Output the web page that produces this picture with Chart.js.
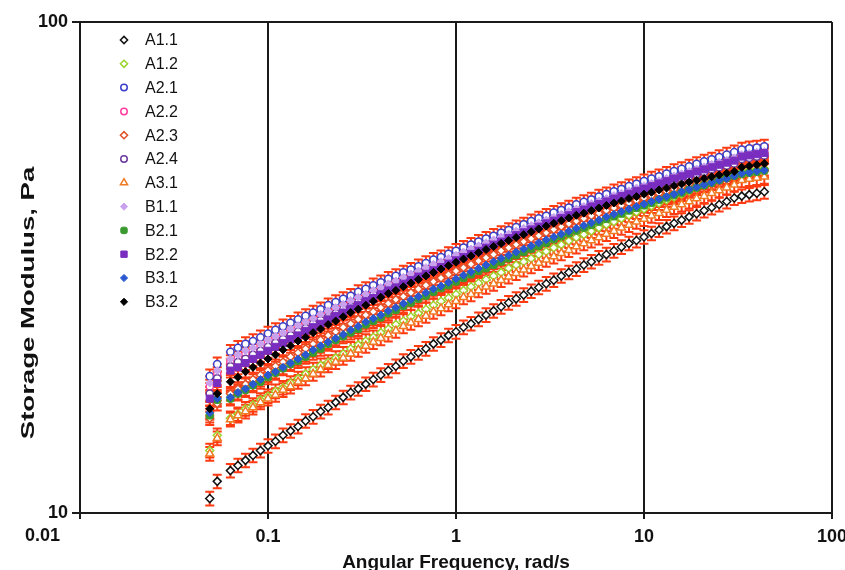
<!DOCTYPE html>
<html>
<head>
<meta charset="utf-8">
<script src="https://cdn.jsdelivr.net/npm/chart.js@4.4.1/dist/chart.umd.min.js"></script>
<style>
html,body{margin:0;padding:0;background:#ffffff;}
#wrap{width:845px;height:570px;position:relative;}
</style>
</head>
<body>
<div id="wrap"><canvas id="c" width="845" height="570"></canvas></div>
<script>
// ---------- DATA ----------
const freq = [0.049, 0.0537,
  0.0631, 0.0692, 0.0759, 0.0832, 0.0912, 0.1, 0.1096, 0.1202, 0.1318, 0.1445, 0.1585, 0.1738, 0.1905, 0.2089, 0.2291, 0.2512, 0.2754, 0.302, 0.3311, 0.3631, 0.3981, 0.4365, 0.4786, 0.5248, 0.5754, 0.631, 0.6918, 0.7586, 0.8318, 0.912, 1, 1.096, 1.202, 1.318, 1.445, 1.585, 1.738, 1.905, 2.089, 2.291, 2.512, 2.754, 3.02, 3.311, 3.631, 3.981, 4.365, 4.786, 5.248, 5.754, 6.31, 6.918, 7.586, 8.318, 9.12, 10, 10.96, 12.02, 13.18, 14.45, 15.85, 17.38, 19.05, 20.89, 22.91, 25.12, 27.54, 30.2,
  33.11, 36.31, 39.81, 43.65];

const seriesNames = ['A1.1','A1.2','A2.1','A2.2','A2.3','A2.4','A3.1','B1.1','B2.1','B2.2','B3.1','B3.2'];

const A11 = [10.7, 11.6,
  12.2, 12.5, 12.8, 13.1, 13.4, 13.7, 14.0, 14.4, 14.7, 15.0, 15.4, 15.7, 16.1, 16.4, 16.8, 17.2, 17.6, 17.9, 18.3, 18.7, 19.1, 19.5, 19.9, 20.4, 20.8, 21.2, 21.6, 22.1, 22.5, 23.0, 23.4, 23.9, 24.3, 24.8, 25.3, 25.8, 26.3, 26.8, 27.3, 27.8, 28.3, 28.8, 29.3, 29.8, 30.4, 30.9, 31.4, 32.0, 32.5, 33.1, 33.6, 34.2, 34.8, 35.4, 35.9, 36.5, 37.1, 37.7, 38.3, 38.9, 39.5, 40.1, 40.7, 41.3, 41.9, 42.5, 43.1, 43.8,
  44.2, 44.5, 44.8, 45.1];
const A12 = [13.4, 14.4,
  15.6, 15.9, 16.3, 16.6, 17.0, 17.3, 17.7, 18.0, 18.4, 18.8, 19.2, 19.6, 20.0, 20.3, 20.7, 21.1, 21.6, 22.0, 22.4, 22.8, 23.3, 23.7, 24.2, 24.6, 25.1, 25.5, 26.0, 26.5, 27.0, 27.4, 27.9, 28.4, 28.9, 29.4, 29.9, 30.4, 30.9, 31.5, 32.0, 32.5, 33.0, 33.6, 34.1, 34.7, 35.2, 35.8, 36.4, 36.9, 37.5, 38.1, 38.7, 39.2, 39.8, 40.4, 41.0, 41.6, 42.2, 42.8, 43.4, 44.0, 44.6, 45.3, 45.9, 46.5, 47.1, 47.8, 48.4, 49.0,
  49.6, 49.9, 50.1, 50.3];
const A21 = [19.0, 20.1,
  21.3, 21.7, 22.1, 22.4, 22.8, 23.2, 23.6, 24.0, 24.4, 24.8, 25.2, 25.6, 26.0, 26.5, 26.9, 27.3, 27.7, 28.2, 28.6, 29.1, 29.5, 30.0, 30.4, 30.9, 31.3, 31.8, 32.3, 32.8, 33.2, 33.7, 34.2, 34.7, 35.2, 35.7, 36.2, 36.7, 37.2, 37.7, 38.2, 38.7, 39.3, 39.8, 40.3, 40.9, 41.4, 41.9, 42.5, 43.0, 43.5, 44.1, 44.6, 45.2, 45.7, 46.3, 46.8, 47.4, 48.0, 48.5, 49.1, 49.7, 50.2, 50.8, 51.4, 52.0, 52.5, 53.1, 53.7, 54.3,
  55.0, 55.3, 55.5, 55.8];
const A22 = [18.1, 19.2,
  20.3, 20.7, 21.1, 21.4, 21.8, 22.2, 22.6, 23.0, 23.4, 23.8, 24.2, 24.6, 25.1, 25.5, 25.9, 26.3, 26.8, 27.2, 27.7, 28.1, 28.5, 29.0, 29.5, 29.9, 30.4, 30.8, 31.3, 31.8, 32.3, 32.7, 33.2, 33.7, 34.2, 34.7, 35.1, 35.6, 36.1, 36.6, 37.1, 37.6, 38.1, 38.6, 39.1, 39.7, 40.2, 40.7, 41.2, 41.7, 42.2, 42.7, 43.2, 43.7, 44.3, 44.8, 45.3, 45.8, 46.3, 46.8, 47.4, 47.9, 48.4, 48.9, 49.4, 49.9, 50.4, 50.9, 51.4, 52.0,
  52.9, 53.2, 53.5, 53.8];
const A23 = [15.6, 16.7,
  17.5, 17.9, 18.3, 18.7, 19.1, 19.5, 19.9, 20.3, 20.8, 21.2, 21.6, 22.1, 22.5, 23.0, 23.4, 23.9, 24.3, 24.8, 25.3, 25.7, 26.2, 26.7, 27.2, 27.6, 28.1, 28.6, 29.1, 29.6, 30.1, 30.6, 31.1, 31.6, 32.1, 32.6, 33.1, 33.6, 34.2, 34.7, 35.2, 35.7, 36.2, 36.7, 37.2, 37.8, 38.3, 38.8, 39.3, 39.8, 40.3, 40.8, 41.3, 41.8, 42.3, 42.8, 43.3, 43.8, 44.3, 44.8, 45.2, 45.7, 46.2, 46.7, 47.1, 47.6, 48.1, 48.5, 49.0, 49.4,
  50.6, 50.9, 51.1, 51.4];
const A24 = [17.5, 18.8,
  19.9, 20.3, 20.6, 21.0, 21.4, 21.8, 22.2, 22.6, 23.0, 23.4, 23.8, 24.3, 24.7, 25.1, 25.5, 26.0, 26.4, 26.9, 27.3, 27.8, 28.2, 28.7, 29.1, 29.6, 30.1, 30.5, 31.0, 31.5, 31.9, 32.4, 32.9, 33.4, 33.9, 34.4, 34.9, 35.4, 35.9, 36.4, 36.9, 37.4, 37.9, 38.4, 38.9, 39.4, 39.9, 40.4, 40.9, 41.4, 41.9, 42.4, 42.9, 43.5, 44.0, 44.5, 45.0, 45.5, 46.0, 46.5, 47.0, 47.5, 48.0, 48.5, 49.0, 49.5, 50.1, 50.6, 51.0, 51.5,
  52.6, 52.9, 53.2, 53.5];
const A31 = [13.2, 14.2,
  15.5, 15.8, 16.1, 16.4, 16.8, 17.1, 17.4, 17.8, 18.1, 18.5, 18.8, 19.2, 19.6, 20.0, 20.3, 20.7, 21.1, 21.5, 21.9, 22.3, 22.7, 23.1, 23.5, 24.0, 24.4, 24.8, 25.2, 25.7, 26.1, 26.6, 27.0, 27.5, 27.9, 28.4, 28.9, 29.3, 29.8, 30.3, 30.8, 31.3, 31.8, 32.3, 32.8, 33.3, 33.8, 34.3, 34.9, 35.4, 35.9, 36.4, 37.0, 37.5, 38.1, 38.6, 39.2, 39.7, 40.3, 40.8, 41.4, 42.0, 42.5, 43.1, 43.7, 44.2, 44.8, 45.4, 46.0, 46.6,
  47.6, 47.9, 48.1, 48.4];
const B11 = [18.4, 19.5,
  20.6, 21.0, 21.4, 21.7, 22.1, 22.5, 22.9, 23.3, 23.7, 24.1, 24.5, 24.9, 25.4, 25.8, 26.2, 26.6, 27.1, 27.5, 27.9, 28.4, 28.8, 29.3, 29.7, 30.2, 30.7, 31.1, 31.6, 32.1, 32.5, 33.0, 33.5, 34.0, 34.5, 35.0, 35.5, 36.0, 36.5, 37.0, 37.5, 38.0, 38.5, 39.0, 39.5, 40.0, 40.6, 41.1, 41.6, 42.1, 42.7, 43.2, 43.7, 44.3, 44.8, 45.3, 45.9, 46.4, 46.9, 47.5, 48.0, 48.6, 49.1, 49.6, 50.2, 50.7, 51.3, 51.8, 52.3, 52.9,
  53.7, 54.0, 54.3, 54.5];
const B21 = [15.8, 17.0,
  17.1, 17.5, 17.8, 18.2, 18.5, 18.9, 19.3, 19.7, 20.1, 20.4, 20.8, 21.2, 21.6, 22.1, 22.5, 22.9, 23.3, 23.7, 24.2, 24.6, 25.0, 25.5, 25.9, 26.4, 26.8, 27.3, 27.7, 28.2, 28.7, 29.1, 29.6, 30.1, 30.6, 31.1, 31.5, 32.0, 32.5, 33.0, 33.5, 34.0, 34.5, 35.0, 35.5, 36.1, 36.6, 37.1, 37.6, 38.1, 38.6, 39.2, 39.7, 40.2, 40.7, 41.3, 41.8, 42.3, 42.8, 43.4, 43.9, 44.4, 44.9, 45.5, 46.0, 46.5, 47.0, 47.6, 48.1, 48.6,
  49.0, 49.3, 49.5, 49.8];
const B22 = [17.1, 18.4,
  19.5, 19.8, 20.2, 20.6, 21.0, 21.4, 21.8, 22.2, 22.6, 23.0, 23.5, 23.9, 24.3, 24.8, 25.2, 25.6, 26.1, 26.5, 27.0, 27.4, 27.9, 28.4, 28.8, 29.3, 29.8, 30.3, 30.7, 31.2, 31.7, 32.2, 32.7, 33.2, 33.7, 34.2, 34.7, 35.2, 35.7, 36.3, 36.8, 37.3, 37.8, 38.3, 38.9, 39.4, 39.9, 40.4, 41.0, 41.5, 42.1, 42.6, 43.1, 43.7, 44.2, 44.7, 45.3, 45.8, 46.3, 46.9, 47.4, 48.0, 48.5, 49.0, 49.6, 50.1, 50.6, 51.2, 51.7, 52.2,
  53.2, 53.5, 53.8, 54.1];
const B31 = [16.0, 17.1,
  17.2, 17.6, 17.9, 18.3, 18.7, 19.1, 19.4, 19.8, 20.2, 20.6, 21.0, 21.5, 21.9, 22.3, 22.7, 23.1, 23.6, 24.0, 24.5, 24.9, 25.3, 25.8, 26.2, 26.7, 27.2, 27.6, 28.1, 28.6, 29.0, 29.5, 30.0, 30.5, 31.0, 31.5, 32.0, 32.5, 33.0, 33.5, 34.0, 34.5, 35.0, 35.5, 36.0, 36.5, 37.0, 37.5, 38.0, 38.5, 39.0, 39.5, 40.1, 40.6, 41.1, 41.6, 42.1, 42.6, 43.1, 43.6, 44.1, 44.6, 45.1, 45.6, 46.1, 46.6, 47.1, 47.6, 48.0, 48.6,
  49.2, 49.4, 49.7, 49.9];
const B32 = [16.3, 17.5,
  18.5, 18.9, 19.4, 19.8, 20.2, 20.6, 21.0, 21.5, 21.9, 22.4, 22.8, 23.3, 23.7, 24.2, 24.6, 25.1, 25.6, 26.0, 26.5, 27.0, 27.5, 28.0, 28.4, 28.9, 29.4, 29.9, 30.4, 30.9, 31.4, 31.9, 32.4, 32.9, 33.4, 33.9, 34.4, 34.9, 35.4, 35.9, 36.4, 36.9, 37.4, 37.9, 38.4, 38.9, 39.4, 39.9, 40.4, 40.8, 41.3, 41.8, 42.3, 42.8, 43.2, 43.7, 44.1, 44.6, 45.0, 45.5, 45.9, 46.4, 46.8, 47.2, 47.6, 48.0, 48.4, 48.8, 49.2, 49.6,
  50.6, 50.9, 51.2, 51.5];

const seriesValues = [A11, A12, A21, A22, A23, A24, A31, B11, B21, B22, B31, B32];

const xTickValues = [0.01, 0.1, 1, 10, 100];
const yTickValues = [10, 100];
const relErr = 0.032;   // relative half-height of the red error bars

// ---------- STYLE ----------
const FONT = '"Liberation Sans", Arial, Helvetica, sans-serif';
const styles = [
  {shape:'rectRot',     color:'#111111', fill:false, r:4},
  {shape:'rectRot',     color:'#9bd42c', fill:false, r:4},
  {shape:'circle',      color:'#3a40c8', fill:false, r:3.6},
  {shape:'circle',      color:'#ff3d9e', fill:false, r:3.6},
  {shape:'rectRot',     color:'#e0522a', fill:false, r:4},
  {shape:'circle',      color:'#6b3a9c', fill:false, r:3.6},
  {shape:'triangle',    color:'#f07a22', fill:false, r:4.6},
  {shape:'rectRot',     color:'#c9a2ee', fill:true,  r:4},
  {shape:'rectRounded', color:'#3a9a30', fill:true,  r:4.2},
  {shape:'rect',        color:'#7a2ec0', fill:true,  r:5},
  {shape:'rectRot',     color:'#2a58d0', fill:true,  r:4},
  {shape:'rectRot',     color:'#000000', fill:true,  r:4}
];
const errColor = '#ff3b12';
const axisColor = '#1a1a1a';
const tickFont = {family: FONT, size: 18, weight: 'bold'};

const datasets = seriesNames.map((name, i) => {
  const st = styles[i];
  return {
    label: name,
    data: freq.map((f, k) => ({x: f, y: seriesValues[i][k]})),
    showLine: false,
    pointStyle: st.shape,
    pointRadius: st.r,
    pointHoverRadius: st.r,
    borderColor: st.color,
    backgroundColor: st.fill ? st.color : '#ffffff',
    pointBorderWidth: st.fill ? 1 : 1.5,
    order: seriesNames.length - i
  };
});

const errorBars = {
  id: 'errorBars',
  beforeDatasetsDraw(chart) {
    const {ctx, chartArea: a, scales: {x, y}} = chart;
    ctx.save();
    ctx.beginPath();
    ctx.rect(a.left, a.top, a.right - a.left, a.bottom - a.top);
    ctx.clip();
    ctx.strokeStyle = errColor;
    ctx.lineWidth = 2;
    seriesValues.forEach(vals => {
      vals.forEach((v, k) => {
        const px = x.getPixelForValue(freq[k]);
        const yt = y.getPixelForValue(v * (1 + relErr));
        const yb = y.getPixelForValue(v * (1 - relErr));
        ctx.beginPath();
        ctx.moveTo(px, yt); ctx.lineTo(px, yb);
        ctx.moveTo(px - 4.5, yt); ctx.lineTo(px + 4.5, yt);
        ctx.moveTo(px - 4.5, yb); ctx.lineTo(px + 4.5, yb);
        ctx.stroke();
      });
    });
    ctx.restore();
  }
};

const legendAndTitles = {
  id: 'legendAndTitles',
  afterDraw(chart) {
    const ctx = chart.ctx;
    const xs = chart.scales.x;
    seriesNames.forEach((name, i) => {
      const yy = 40 + i * 23.8;
      const st = styles[i];
      ctx.save();
      ctx.strokeStyle = st.color;
      ctx.fillStyle = st.fill ? st.color : '#ffffff';
      ctx.lineWidth = st.fill ? 1 : 1.5;
      Chart.helpers.drawPoint(ctx, {pointStyle: st.shape, radius: st.r * 0.9, rotation: 0, borderWidth: ctx.lineWidth}, 124, yy);
      ctx.restore();
      ctx.save();
      ctx.fillStyle = '#111111';
      ctx.font = '16px ' + FONT;
      ctx.textAlign = 'left';
      ctx.textBaseline = 'middle';
      ctx.fillText(name, 145, yy + 1);
      ctx.restore();
    });
    // first x tick label, set left of the axis corner as in the original
    ctx.save();
    ctx.fillStyle = '#111111';
    ctx.font = 'bold 18px ' + FONT;
    ctx.textAlign = 'right';
    ctx.textBaseline = 'middle';
    ctx.fillText(String(xTickValues[0]), xs.getPixelForValue(xTickValues[0]) - 20, 536);
    ctx.restore();
    // axis titles
    ctx.save();
    ctx.fillStyle = '#111111';
    ctx.font = 'bold 19px ' + FONT;
    ctx.textAlign = 'center';
    ctx.textBaseline = 'alphabetic';
    ctx.fillText('Angular Frequency, rad/s', 456, 568);
    ctx.translate(34, 303);
    ctx.rotate(-Math.PI / 2);
    ctx.scale(1.45, 1);
    ctx.fillText('Storage Modulus, Pa', 0, 0);
    ctx.restore();
  }
};

new Chart(document.getElementById('c'), {
  type: 'scatter',
  data: {datasets},
  options: {
    responsive: false,
    animation: false,
    devicePixelRatio: 1,
    layout: {padding: {top: 22, right: 13, left: 0, bottom: 0}},
    plugins: {legend: {display: false}, tooltip: {enabled: false}},
    scales: {
      x: {
        type: 'logarithmic', min: 0.01, max: 100,
        afterBuildTicks: s => { s.ticks = xTickValues.map(v => ({value: v})); },
        afterFit: s => { s.height = 57; s.paddingLeft = 0; s.paddingRight = 0; },
        grid: {color: axisColor, lineWidth: 2, tickLength: 6, drawTicks: true},
        border: {display: true, color: axisColor, width: 2},
        ticks: {font: tickFont, color: '#111111', padding: 7,
                maxRotation: 0, autoSkip: false,
                callback: (v, i) => (i === 0 ? '' : String(v))}
      },
      y: {
        type: 'logarithmic', min: 10, max: 100,
        afterBuildTicks: s => { s.ticks = yTickValues.map(v => ({value: v})); },
        afterFit: s => { s.width = 80; s.paddingTop = 0; s.paddingBottom = 0; },
        grid: {color: axisColor, lineWidth: 2, tickLength: 8, drawTicks: true},
        border: {display: true, color: axisColor, width: 2},
        ticks: {font: tickFont, color: '#111111', padding: 4,
                autoSkip: false, callback: v => String(v)}
      }
    }
  },
  plugins: [errorBars, legendAndTitles]
});
</script>
</body>
</html>
